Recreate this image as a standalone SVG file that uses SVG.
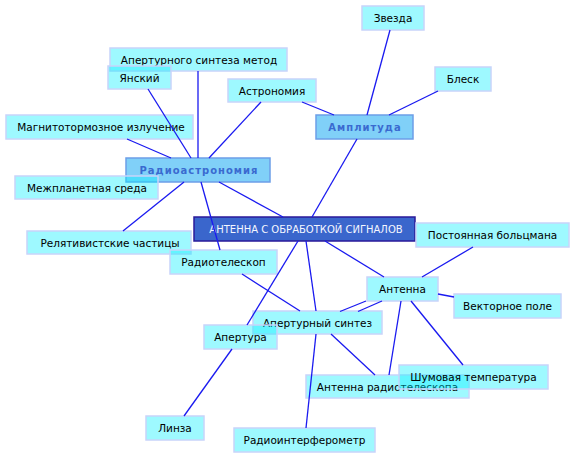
<svg xmlns="http://www.w3.org/2000/svg" width="576" height="458" viewBox="0 0 576 458">
<style>
.n rect{fill:#00eeff;fill-opacity:0.38;stroke:#c8d4fa;stroke-width:1.5}
.n text{font-family:"DejaVu Sans",sans-serif;font-size:10.5px;fill:#000;text-anchor:middle}
.h rect{fill:#80d0f8;stroke:#6c9ee8;stroke-width:1.5}
.h text{font-family:"DejaVu Sans",sans-serif;font-size:10px;font-weight:bold;fill:#3a6ad0;text-anchor:middle;letter-spacing:1px}
.c rect{fill:#3a66cc;stroke:#2a1a9a;stroke-width:1.5}
.c text{font-family:"DejaVu Sans",sans-serif;font-size:10px;fill:#f4f6ff;text-anchor:middle}
#edges line{stroke:#1a1af0;stroke-width:1.3}
</style>
<rect width="576" height="458" fill="#fff"/>
<g id="n-zvezda" class="n"><rect x="362" y="6" width="62" height="24"/><text x="393" y="22">Звезда</text></g>
<g id="n-blesk" class="n"><rect x="435" y="67" width="56" height="24"/><text x="463" y="83">Блеск</text></g>
<g id="n-amplituda" class="h"><rect x="316" y="115" width="97" height="24"/><text x="365" y="131">Амплитуда</text></g>
<g id="n-apsm" class="n"><rect x="110" y="48" width="177" height="23"/><text x="199" y="63.5">Апертурного синтеза метод</text></g>
<g id="n-yansky" class="n"><rect x="108" y="66" width="63" height="23"/><text x="139.5" y="81.5">Янский</text></g>
<g id="n-astronomiya" class="n"><rect x="228" y="79" width="88" height="23"/><text x="272" y="94.5">Астрономия</text></g>
<g id="n-magnit" class="n"><rect x="6" y="115" width="187" height="24"/><text x="101" y="131">Магнитотормозное излучение</text></g>
<g id="n-radioastr" class="h"><rect x="126" y="158" width="144" height="24"/><text x="199" y="174">Радиоастрономия</text></g>
<g id="n-mezhpl" class="n"><rect x="15" y="176" width="143" height="23"/><text x="87" y="191.5">Межпланетная среда</text></g>
<g id="n-relyat" class="n"><rect x="27" y="231" width="164" height="23"/><text x="110" y="246.5">Релятивистские частицы</text></g>
<g id="n-radioteleskop" class="n"><rect x="170" y="250" width="107" height="24"/><text x="223.5" y="266">Радиотелескоп</text></g>
<g id="n-main" class="c"><rect x="194" y="217" width="221" height="24"/><text x="306" y="233">АНТЕННА С ОБРАБОТКОЙ СИГНАЛОВ</text></g>
<g id="n-boltzmann" class="n"><rect x="416" y="223" width="153" height="24"/><text x="492.5" y="239">Постоянная больцмана</text></g>
<g id="n-antenna" class="n"><rect x="367" y="277" width="71" height="24"/><text x="402.5" y="293">Антенна</text></g>
<g id="n-vektor" class="n"><rect x="454" y="294" width="107" height="24"/><text x="507.5" y="310">Векторное поле</text></g>
<g id="n-apsintez" class="n"><rect x="253" y="311" width="129" height="23"/><text x="317.5" y="326.5">Апертурный синтез</text></g>
<g id="n-apertura" class="n"><rect x="204" y="325" width="73" height="24"/><text x="240.5" y="341">Апертура</text></g>
<g id="n-linza" class="n"><rect x="146" y="416" width="58" height="24"/><text x="175" y="432">Линза</text></g>
<g id="n-radiointerf" class="n"><rect x="234" y="428" width="141" height="24"/><text x="304.5" y="444">Радиоинтерферометр</text></g>
<g id="n-antrt" class="n"><rect x="306" y="375" width="163" height="23"/><text x="387.5" y="390.5">Антенна радиотелескопа</text></g>
<g id="n-shum" class="n"><rect x="399" y="365" width="149" height="24"/><text x="473.5" y="381">Шумовая температура</text></g>
<g id="edges">
<line x1="390" y1="30" x2="367" y2="115"/>
<line x1="438" y1="91" x2="389" y2="115"/>
<line x1="302" y1="102" x2="334" y2="115"/>
<line x1="357" y1="139" x2="312" y2="217"/>
<line x1="198" y1="71" x2="198" y2="158"/>
<line x1="148" y1="89" x2="191" y2="158"/>
<line x1="261" y1="102" x2="209" y2="158"/>
<line x1="127" y1="139" x2="171" y2="158"/>
<line x1="184" y1="182" x2="123" y2="231"/>
<line x1="201" y1="182" x2="220" y2="250"/>
<line x1="219" y1="182" x2="283" y2="217"/>
<line x1="242" y1="274" x2="300" y2="311"/>
<line x1="298" y1="241" x2="247" y2="325"/>
<line x1="306" y1="241" x2="316" y2="311"/>
<line x1="325" y1="241" x2="384" y2="277"/>
<line x1="473" y1="247" x2="422" y2="277"/>
<line x1="438" y1="294" x2="454" y2="297"/>
<line x1="366" y1="301" x2="340" y2="311.5"/>
<line x1="382" y1="301" x2="358" y2="311.5"/>
<line x1="401" y1="301" x2="389" y2="375"/>
<line x1="411" y1="301" x2="463" y2="365"/>
<line x1="331" y1="334" x2="375" y2="375"/>
<line x1="316" y1="334" x2="306" y2="428"/>
<line x1="232" y1="349" x2="184" y2="416"/>
</g>
</svg>
